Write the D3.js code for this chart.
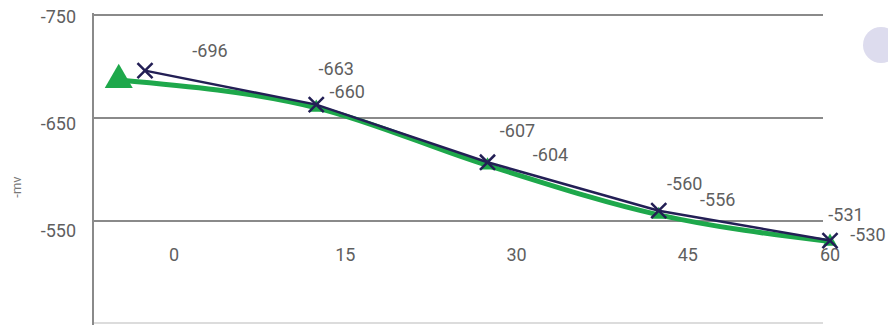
<!DOCTYPE html>
<html>
<head>
<meta charset="utf-8">
<script src="https://cdn.jsdelivr.net/npm/d3@7"></script>
<style>
  html, body { margin: 0; padding: 0; background: #fff; }
  svg { display: block; font-family: Roboto, "Noto Sans", sans-serif; }
</style>
</head>
<body>
<svg id="chart" width="888" height="325"></svg>
<script>
// ---- data ----
const xTicks = [0, 15, 30, 45, 60];
const yTicks = [-750, -650, -550];
const yAxisTitle = "-mv";

const navyTimes  = [0, 15, 30, 45, 60];
const navyValues = [-696, -663, -607, -560, -531];

const greenTimes  = [-2.3, 15, 30, 45, 60];
const greenValues = [-687, -660, -604, -556, -530];
const greenShowLabel = [false, true, true, true, true];

// ---- layout ----
const W = 888, H = 325;
const plotLeft = 93, plotRight = 823, plotBottom = 323;
const navyColor = "#231f55", greenColor = "#1ea84b", textColor = "#5f5f5f";
const fs = 18;

const svg = d3.select("#chart");

const x = d3.scaleLinear().domain([0, 60]).range([145, 830]);
const y = d3.scaleLinear().domain([-750, -550]).range([15, 221]);

// gridlines
svg.append("g").selectAll("line").data(yTicks).join("line")
  .attr("x1", plotLeft).attr("x2", plotRight)
  .attr("y1", d => y(d)).attr("y2", d => y(d))
  .attr("stroke", "#8a8a8a").attr("stroke-width", 2);

// bottom line
svg.append("line")
  .attr("x1", plotLeft).attr("x2", plotRight)
  .attr("y1", plotBottom).attr("y2", plotBottom)
  .attr("stroke", "#dcdcdc").attr("stroke-width", 2);

// vertical axis line
svg.append("line")
  .attr("x1", plotLeft).attr("x2", plotLeft)
  .attr("y1", y(-750) - 2).attr("y2", H)
  .attr("stroke", "#8a8a8a").attr("stroke-width", 2);

// y tick labels
svg.append("g").selectAll("text").data(yTicks).join("text")
  .attr("x", 76).attr("y", d => y(d) + 3 + (d + 750) * 0.04)
  .attr("text-anchor", "end").attr("dominant-baseline", "middle")
  .attr("font-size", fs).attr("fill", textColor)
  .text(d => d);

// y axis title
svg.append("text")
  .attr("transform", "translate(18,187) rotate(-90)")
  .attr("text-anchor", "middle").attr("dominant-baseline", "middle")
  .attr("font-size", 13).attr("fill", "#777")
  .text(yAxisTitle);

// x tick labels (shifted right of point positions, last kept inside)
svg.append("g").selectAll("text").data(xTicks).join("text")
  .attr("x", d => Math.min(x(d) + 29, x(60)))
  .attr("y", 256)
  .attr("text-anchor", "middle").attr("dominant-baseline", "middle")
  .attr("font-size", fs).attr("fill", textColor)
  .text(d => d);

// decorative circle
svg.append("circle").attr("cx", 881).attr("cy", 45).attr("r", 18).attr("fill", "#dddcee");

const navy = navyTimes.map((t, i) => ({ t, v: navyValues[i] }));
const green = greenTimes.map((t, i) => ({ t, v: greenValues[i], show: greenShowLabel[i] }));

// green line
svg.append("path").datum(green)
  .attr("d", d3.line().x(d => x(d.t)).y(d => y(d.v)).curve(d3.curveMonotoneX))
  .attr("fill", "none").attr("stroke", greenColor).attr("stroke-width", 5)
  .attr("stroke-linecap", "round");

// green triangles
svg.append("g").selectAll("path").data(green).join("path")
  .attr("transform", d => `translate(${x(d.t)},${y(d.v)})`)
  .attr("d", (d, i) => d3.symbol().type(d3.symbolTriangle).size(i === 0 ? 340 : 85)())
  .attr("fill", greenColor);

// navy line
svg.append("path").datum(navy)
  .attr("d", d3.line().x(d => x(d.t)).y(d => y(d.v)))
  .attr("fill", "none").attr("stroke", navyColor).attr("stroke-width", 2.5);

// navy crosses
svg.append("g").selectAll("path").data(navy).join("path")
  .attr("transform", d => `translate(${x(d.t)},${y(d.v)})`)
  .attr("d", d3.symbol().type(d3.symbolX).size(150)())
  .attr("fill", "none").attr("stroke", navyColor).attr("stroke-width", 2.5);

// value labels
const navyNudge = [[65, -18], [20, -34], [30, -30], [26, -25], [16, -24]];
const greenNudge = [[0, 0], [31, -14], [63, -9], [59, -14], [38, -5]];

svg.append("g").selectAll("text").data(navy).join("text")
  .attr("x", (d, i) => x(d.t) + navyNudge[i][0])
  .attr("y", (d, i) => y(d.v) + navyNudge[i][1])
  .attr("text-anchor", "middle").attr("dominant-baseline", "middle")
  .attr("font-size", fs).attr("fill", textColor)
  .text(d => d.v);

svg.append("g").selectAll("text").data(green.filter(d => d.show)).join("text")
  .attr("x", d => x(d.t) + greenNudge[green.indexOf(d)][0])
  .attr("y", d => y(d.v) + greenNudge[green.indexOf(d)][1])
  .attr("text-anchor", "middle").attr("dominant-baseline", "middle")
  .attr("font-size", fs).attr("fill", textColor)
  .text(d => d.v);
</script>
</body>
</html>
